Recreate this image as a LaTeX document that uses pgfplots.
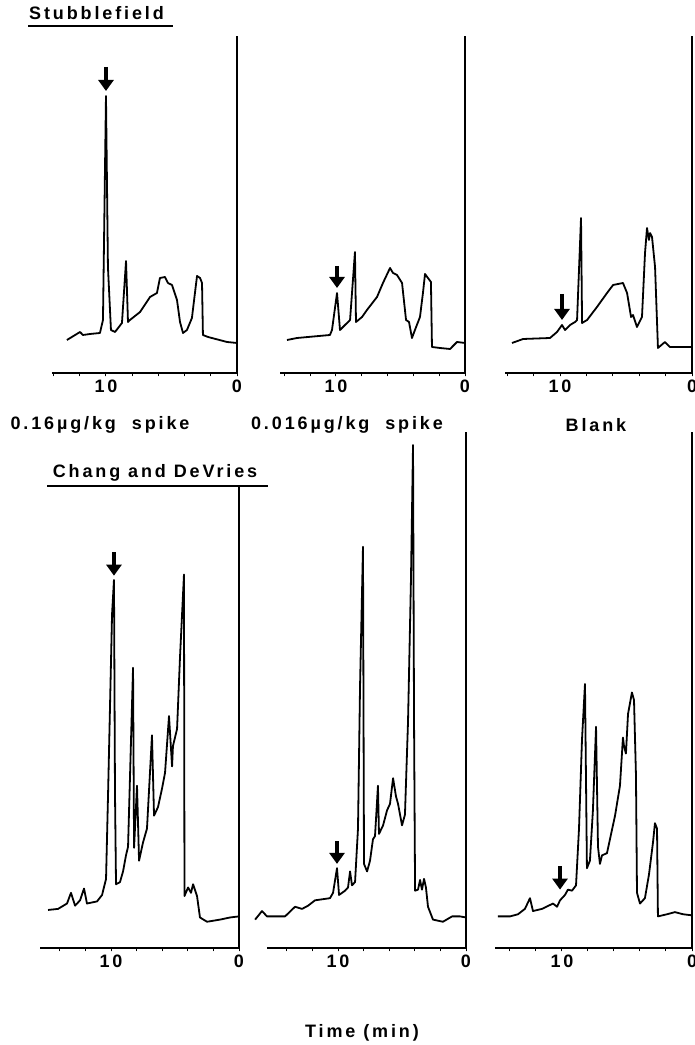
\documentclass[border=0pt]{standalone}
\usepackage{fontspec}
\setmainfont{Liberation Sans}[LetterSpace=16,Ligatures=NoCommon]
\usepackage{pgfplots}
\pgfplotsset{compat=1.18}
\usetikzlibrary{arrows.meta}
\newcommand{\lbl}{\fontsize{18}{21}\selectfont\bfseries}
\tikzset{pk/.style={line width=4.5pt, -{Triangle[width=15pt,length=11pt]}}}
\pgfplotsset{
  panel/.style={
    scale only axis, clip=false,
    axis x line*=bottom, axis y line*=right,
    axis line style={line width=1.7pt, -},
    xmax=0,
    ytick=\empty,
    xtick={-16,-14,...,0},
    xticklabels={},
    extra x ticks={-10,0},
    extra x tick labels={10,0},
    tick align=outside,
    major tick length=3.5pt,
    every tick/.style={black, line width=1pt},
    xticklabel style={font=\lbl},
    /pgf/number format/assume math mode=true,
  },
  trace/.style={black, line width=1.8pt, line join=round, no marks},
}
\begin{document}
\begin{tikzpicture}[x=1pt,y=1pt]
\useasboundingbox (0,0) rectangle (694,1045);

% ---------- top row: Stubblefield ----------
\begin{axis}[panel, at={(237pt,672pt)}, anchor=south east, width=185pt, height=337pt, xmin=-14.12, ymin=-2, ymax=335]
\addplot[trace] coordinates {
(-12.98,31) (-11.98,39) (-11.76,36) (-11.22,37) (-10.46,38) (-10.23,51) (-10.00,275) (-9.85,104)
(-9.62,41) (-9.31,39) (-8.78,48) (-8.47,110) (-8.32,49) (-8.17,51) (-7.40,59) (-6.64,74)
(-6.11,78) (-5.88,93) (-5.50,94) (-5.27,88) (-4.96,86) (-4.58,71) (-4.35,49) (-4.12,38)
(-3.82,41) (-3.44,53) (-3.21,78) (-3.05,95) (-2.82,93) (-2.67,88) (-2.60,36) (-2.21,34)
(-0.76,29) (0,28)};
\draw[pk] (axis cs:-10.0,304) -- (axis cs:-10.0,280);
\end{axis}

\begin{axis}[panel, at={(465pt,672pt)}, anchor=south east, width=185pt, height=337pt, xmin=-14.34, ymin=-2, ymax=335]
\addplot[trace] coordinates {
(-13.80,31) (-13.02,33) (-10.47,36) (-10.31,41) (-9.92,78) (-9.69,41) (-9.30,46) (-8.91,51)
(-8.53,119) (-8.45,49) (-7.98,54) (-7.60,61) (-6.82,74) (-6.36,88) (-5.81,103) (-5.58,98)
(-5.27,96) (-4.88,88) (-4.57,51) (-4.34,49) (-4.11,33) (-3.88,41) (-3.49,54) (-3.26,78)
(-3.10,97) (-2.87,93) (-2.64,89) (-2.56,24) (-1.94,23) (-1.16,22) (-0.62,29) (0,28)};
\draw[pk] (axis cs:-9.92,105) -- (axis cs:-9.92,83);
\end{axis}

\begin{axis}[panel, at={(692pt,672pt)}, anchor=south east, width=187pt, height=337pt, xmin=-14.17, ymin=-2, ymax=335]
\addplot[trace] coordinates {
(-13.64,28) (-12.80,32) (-10.76,33) (-10.23,39) (-9.85,46) (-9.62,41) (-9.24,46) (-8.86,49)
(-8.71,51) (-8.41,153) (-8.33,48) (-7.95,51) (-7.20,64) (-6.44,78) (-5.98,86) (-5.23,88)
(-4.92,78) (-4.62,54) (-4.47,56) (-4.17,44) (-3.79,54) (-3.56,118) (-3.41,143) (-3.26,131)
(-3.18,138) (-3.03,134) (-2.80,104) (-2.58,23) (-2.05,29) (-1.67,24) (0,24)};
\draw[pk] (axis cs:-9.85,77) -- (axis cs:-9.85,51);
\end{axis}

% ---------- bottom row: Chang and DeVries ----------
\begin{axis}[panel, at={(239pt,97pt)}, anchor=south east, width=199pt, height=462pt, xmin=-15.55, ymin=3.5, ymax=434.7]
\addplot[trace] coordinates {
(-14.92,39) (-14.14,40) (-13.44,45) (-13.13,55) (-12.81,43) (-12.42,48) (-12.11,59) (-11.88,45)
(-11.09,47) (-10.70,53) (-10.39,68) (-10.23,148) (-9.92,315) (-9.77,347) (-9.69,148) (-9.61,63)
(-9.30,65) (-9.06,75) (-8.83,90) (-8.67,98) (-8.28,265) (-8.20,97) (-7.97,155) (-7.81,85)
(-7.50,102) (-7.19,115) (-6.80,202) (-6.64,127) (-6.33,135) (-6.02,152) (-5.78,167) (-5.47,220)
(-5.23,173) (-5.16,192) (-4.84,208) (-4.61,275) (-4.30,352) (-4.26,52) (-3.98,60) (-3.75,55)
(-3.59,63) (-3.28,52) (-3.05,32) (-2.50,28) (-1.48,30) (-0.70,32) (0,33)};
\draw[pk] (axis cs:-9.77,373) -- (axis cs:-9.77,351);
\end{axis}

\begin{axis}[panel, at={(466pt,97pt)}, anchor=south east, width=199pt, height=516pt, xmin=-15.55, ymin=3.5, ymax=485.2]
\addplot[trace] coordinates {
(-16.48,30) (-15.94,38) (-15.55,33) (-14.14,33) (-13.36,42) (-12.81,40) (-12.34,43) (-11.80,48)
(-10.63,50) (-10.39,55) (-10.08,78) (-9.92,53) (-9.45,57) (-9.22,60) (-9.06,75) (-8.91,62)
(-8.67,65) (-8.44,115) (-8.28,248) (-8.05,378) (-7.97,82) (-7.73,75) (-7.50,85) (-7.27,105)
(-7.11,108) (-6.88,155) (-6.80,110) (-6.48,118) (-6.17,132) (-5.94,138) (-5.70,162) (-5.47,145)
(-5.31,138) (-5.00,118) (-4.77,128) (-4.53,215) (-4.30,348) (-4.14,473) (-4.06,215) (-3.98,57)
(-3.75,58) (-3.59,67) (-3.44,58) (-3.28,68) (-3.13,60) (-2.97,42) (-2.58,30) (-1.80,28)
(-1.09,33) (-0.47,33) (0,32)};
\draw[pk] (axis cs:-10.08,103) -- (axis cs:-10.08,82);
\end{axis}

\begin{axis}[panel, at={(692pt,97pt)}, anchor=south east, width=197pt, height=516pt, xmin=-15.15, ymin=3.5, ymax=485.2]
\addplot[trace] coordinates {
(-14.92,33) (-14.00,33) (-13.38,35) (-12.85,40) (-12.46,50) (-12.23,38) (-11.54,40) (-10.69,45)
(-10.38,42) (-10.15,48) (-9.77,53) (-9.54,58) (-9.23,57) (-8.92,62) (-8.69,115) (-8.46,198)
(-8.23,250) (-8.08,78) (-7.85,85) (-7.62,132) (-7.38,210) (-7.23,98) (-7.08,82) (-6.92,90)
(-6.54,92) (-6.31,105) (-5.92,127) (-5.54,155) (-5.31,200) (-5.23,192) (-5.08,185) (-4.92,222)
(-4.62,242) (-4.46,235) (-4.31,165) (-4.23,55) (-4.00,45) (-3.62,50) (-3.31,72) (-3.00,102)
(-2.85,120) (-2.69,115) (-2.62,33) (-1.92,35) (-1.31,37) (-0.69,35) (0,34)};
\draw[pk] (axis cs:-10.15,80) -- (axis cs:-10.15,58);
\end{axis}

% ---------- titles ----------
\node[font=\lbl] at (96.5,1032) {Stubblefield};
\draw[line width=1.8pt] (28,1019) -- (173,1019);
\node[font=\lbl] at (100,620) {0.16µg/kg\hspace{8pt} spike};
\node[font=\lbl] at (347,620) {0.016µg/kg\hspace{8pt} spike};
\node[font=\lbl] at (596,620) {Blank};
\node[font=\lbl] at (155,572) {Chang and DeVries};
\draw[line width=1.8pt] (47,559) -- (268,559);
\node[font=\lbl] at (362,12) {Time (min)};
\end{tikzpicture}
\end{document}
